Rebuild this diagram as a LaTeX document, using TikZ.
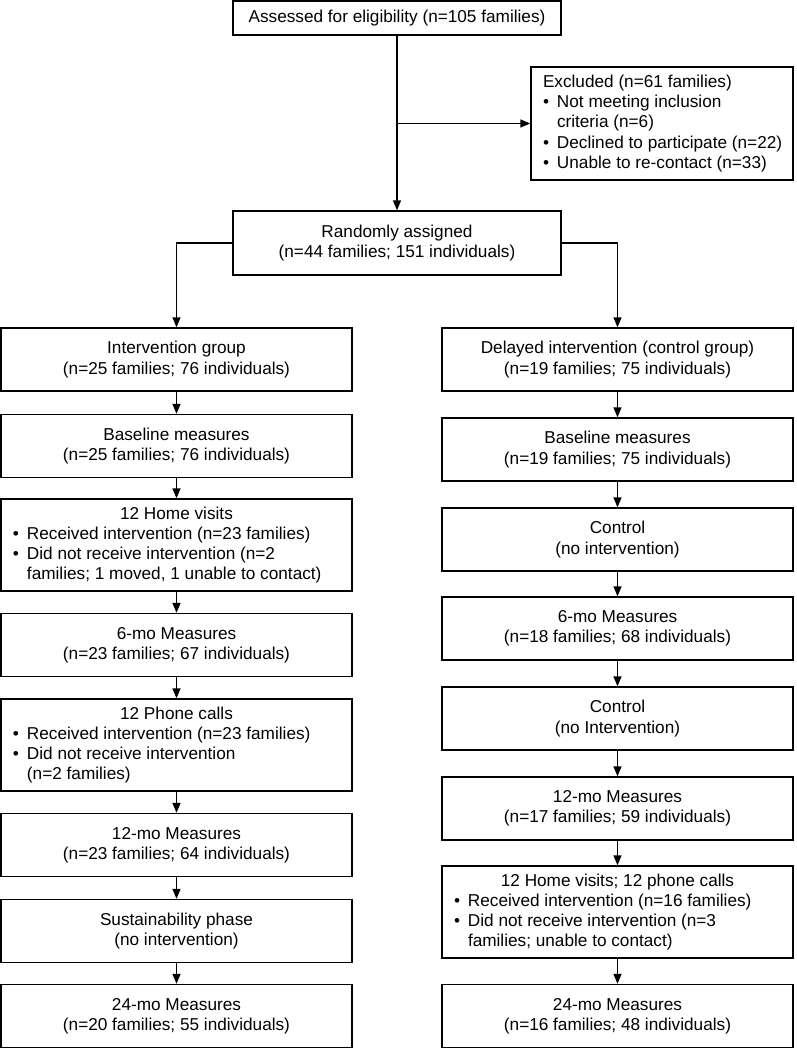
\documentclass[tikz,border=0pt]{standalone}
\usepackage{fontspec}
\setmainfont{Liberation Sans}
\usetikzlibrary{arrows.meta}
\newcommand\bul[2]{\makebox[#1][l]{\hspace*{12pt}\makebox[14pt][l]{•}#2}}
\newcommand\cnt[2]{\makebox[#1][l]{\hspace*{26pt}#2}}
\newcommand\lft[2]{\makebox[#1][l]{\hspace*{12pt}#2}}
\begin{document}
\begin{tikzpicture}[x=1pt,y=-1pt,
 box/.style={draw, line width=1.4pt, inner sep=0pt, align=center, font=\fontsize{17.2}{20.3}\selectfont},
 col/.style={box, minimum width=351pt, minimum height=63pt},
 tall/.style={box, minimum width=351pt, minimum height=92pt},
 arr/.style={line width=1.4pt, -{Triangle[length=10pt,width=8pt]}}]
\useasboundingbox (0,0) rectangle (796,1050);
% top
\node[box, minimum width=328pt, minimum height=34pt] (assess) at (397,18) {Assessed for eligibility (n=105 families)};
\node[box, minimum width=262pt, minimum height=113pt] (excl) at (662,123.5) {\lft{262pt}{Excluded (n=61 families)}\\
\bul{262pt}{Not meeting inclusion}\\
\cnt{262pt}{criteria (n=6)}\\
\bul{262pt}{Declined to participate (n=22)}\\
\bul{262pt}{Unable to re-contact (n=33)}};
\node[box, minimum width=328pt, minimum height=64pt] (rand) at (397,243) {Randomly assigned\\(n=44 families; 151 individuals)};
% left column
\node[col] (ig) at (176.5,359.5) {Intervention group\\(n=25 families; 76 individuals)};
\node[col] (lb) at (176.5,446) {Baseline measures\\(n=25 families; 76 individuals)};
\node[tall] (lh) at (176.5,545) {12 Home visits\\
\bul{351pt}{Received intervention (n=23 families)}\\
\bul{351pt}{Did not receive intervention (n=2}\\
\cnt{351pt}{families; 1 moved, 1 unable to contact)}};
\node[col] (l6) at (176.5,645) {6-mo Measures\\(n=23 families; 67 individuals)};
\node[tall] (lp) at (176.5,745) {12 Phone calls\\
\bul{351pt}{Received intervention (n=23 families)}\\
\bul{351pt}{Did not receive intervention}\\
\cnt{351pt}{(n=2 families)}};
\node[col] (l12) at (176.5,845) {12-mo Measures\\(n=23 families; 64 individuals)};
\node[col] (ls) at (176.5,931) {Sustainability phase\\(no intervention)};
\node[col] (l24) at (176.5,1016) {24-mo Measures\\(n=20 families; 55 individuals)};
% right column
\node[col] (dg) at (617.5,359.5) {Delayed intervention (control group)\\(n=19 families; 75 individuals)};
\node[col] (rb) at (617.5,449.5) {Baseline measures\\(n=19 families; 75 individuals)};
\node[col] (rc1) at (617.5,539.5) {Control\\(no intervention)};
\node[col] (r6) at (617.5,628.5) {6-mo Measures\\(n=18 families; 68 individuals)};
\node[col] (rc2) at (617.5,718.5) {Control\\(no Intervention)};
\node[col] (r12) at (617.5,808.5) {12-mo Measures\\(n=17 families; 59 individuals)};
\node[tall] (rh) at (617.5,912) {12 Home visits; 12 phone calls\\
\bul{351pt}{Received intervention (n=16 families)}\\
\bul{351pt}{Did not receive intervention (n=3}\\
\cnt{351pt}{families; unable to contact)}};
\node[col] (r24) at (617.5,1016) {24-mo Measures\\(n=16 families; 48 individuals)};
% connectors
\draw[arr] (assess.south) -- (rand.north);
\coordinate (split) at (assess.south |- excl.west);
\draw[arr] (split) -- (excl.west);
\draw[arr] (rand.west) -| (ig.north);
\draw[arr] (rand.east) -| (dg.north);
\foreach \a/\b in {ig/lb, lb/lh, lh/l6, l6/lp, lp/l12, l12/ls, ls/l24, dg/rb, rb/rc1, rc1/r6, r6/rc2, rc2/r12, r12/rh, rh/r24}
  \draw[arr] (\a.south) -- (\b.north);
\end{tikzpicture}
\end{document}
